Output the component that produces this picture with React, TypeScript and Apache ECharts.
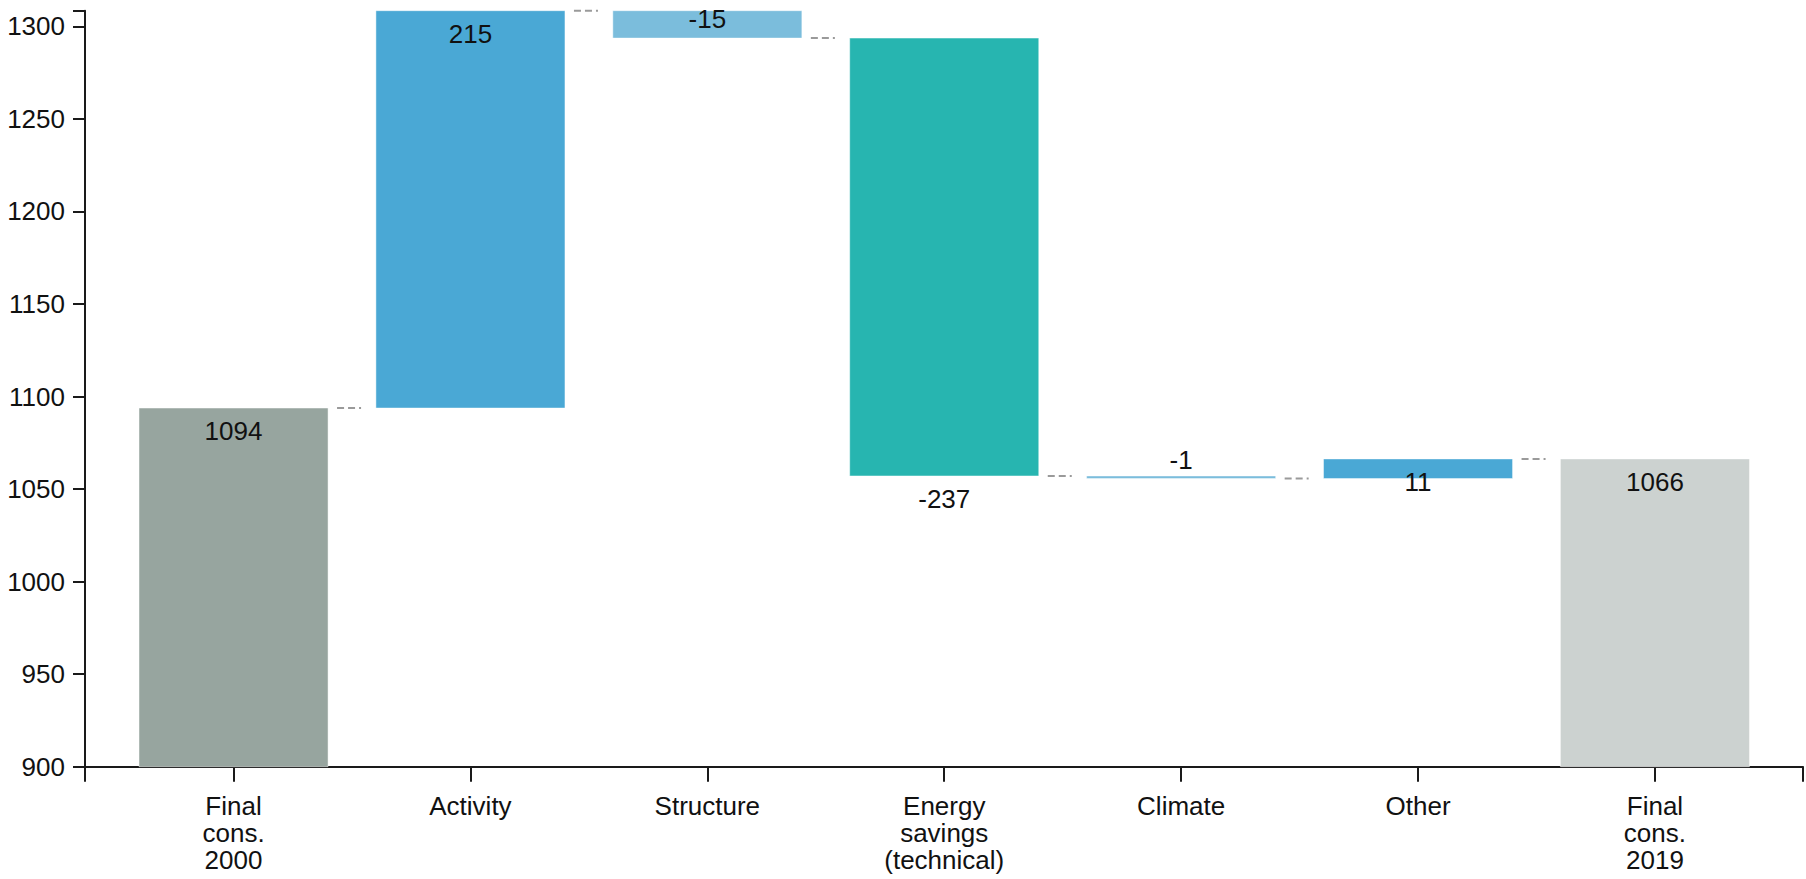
import React, { useEffect, useRef } from "react";
import * as echarts from "echarts";

const categories = [
  "Final\ncons.\n2000",
  "Activity",
  "Structure",
  "Energy\nsavings\n(technical)",
  "Climate",
  "Other",
  "Final\ncons.\n2019",
];
const startTotal = 1093.8;
const deltas = [214.7, -14.8, -236.6, -1.4, 10.6];
const endTotal = 1066.3;
const barColors = ["#97A59F", "#4AA8D5", "#7BBDDC", "#27B5B0", "#7BBDDC", "#4AA8D5", "#CCD2D0"];
const yTicks = [900, 950, 1000, 1050, 1100, 1150, 1200, 1250, 1300];
const yMin = 900;
const xMin = -0.627;
const xMax = 6.625;

const FONT = "'Liberation Sans', Arial, sans-serif";
const FS = 26;

export default function App() {
  const ref = useRef<HTMLDivElement>(null);
  useEffect(() => {
    if (!ref.current) return;
    const chart = echarts.init(ref.current, undefined, { renderer: "svg" });

    // build waterfall segments: [index, start, end, label]
    const segs: any[] = [];
    segs.push([0, yMin, startTotal, String(Math.round(startTotal))]);
    let run = startTotal;
    deltas.forEach((d, k) => {
      segs.push([k + 1, run, run + d, String(Math.round(d))]);
      run += d;
    });
    segs.push([categories.length - 1, yMin, endTotal, String(Math.round(endTotal))]);
    let yMax = yMin;
    segs.forEach((s) => {
      yMax = Math.max(yMax, s[1], s[2]);
    });

    const renderItem = (params: any, api: any) => {
      const i = api.value(0);
      const s = api.value(1);
      const e = api.value(2);
      const label = segs[params.dataIndex][3];
      const pS = api.coord([i, s]);
      const pE = api.coord([i, e]);
      const w = api.size([0.798, 0])[0];
      const top = Math.min(pS[1], pE[1]);
      const h = Math.abs(pS[1] - pE[1]);
      const children: any[] = [
        {
          type: "rect",
          shape: { x: pS[0] - w / 2, y: top, width: w, height: Math.max(h, 1) },
          style: { fill: barColors[params.dataIndex], stroke: "rgba(255,255,255,0.45)", lineWidth: 1 },
        },
      ];
      const negative = e < s;
      const small = h < 40;
      let ty: number;
      let va: string;
      if (negative && small) {
        ty = pE[1] - 6;
        va = "bottom";
      } else {
        ty = pE[1] + 10;
        va = "top";
      }
      children.push({
        type: "text",
        x: pE[0],
        y: ty,
        style: {
          text: label,
          align: "center",
          verticalAlign: va,
          fontSize: FS,
          fontFamily: FONT,
          fill: "#111",
        },
      });
      if (params.dataIndex < segs.length - 1) {
        const x0 = pE[0] + w / 2 + 9;
        children.push({
          type: "line",
          shape: { x1: x0, y1: pE[1], x2: x0 + 24, y2: pE[1] },
          style: { stroke: "#9a9a9a", lineWidth: 2, lineDash: [7, 4] },
        });
      }
      return { type: "group", children };
    };

    const tickVals = [xMin, 0, 1, 2, 3, 4, 5, 6, xMax];

    chart.setOption({
      animation: false,
      grid: {
        left: 85,
        right: 3,
        top: 10.7,
        bottom: 112.3,
        containLabel: false,
        outerBoundsMode: "none",
      },
      xAxis: {
        type: "value",
        min: xMin,
        max: xMax,
        splitLine: { show: false },
        axisLine: { show: true, onZero: false, lineStyle: { color: "#1a1a1a", width: 2 } },
        axisTick: {
          show: true,
          customValues: tickVals,
          length: 15,
          lineStyle: { color: "#1a1a1a", width: 2 },
        },
        axisLabel: {
          customValues: [0, 1, 2, 3, 4, 5, 6],
          formatter: (v: number) => categories[Math.round(v)],
          margin: 26,
          fontSize: FS,
          lineHeight: 27,
          fontFamily: FONT,
          color: "#111",
          align: "center",
        },
      },
      yAxis: {
        type: "value",
        min: yMin,
        max: yMax,
        splitLine: { show: false },
        axisLine: { show: true, onZero: false, lineStyle: { color: "#1a1a1a", width: 2 } },
        axisTick: {
          show: true,
          customValues: [...yTicks, yMax],
          length: 12,
          lineStyle: { color: "#1a1a1a", width: 2 },
        },
        axisLabel: {
          customValues: yTicks,
          formatter: (v: number) => String(v),
          margin: 20,
          fontSize: FS,
          fontFamily: FONT,
          color: "#111",
        },
      },
      series: [
        {
          type: "custom",
          renderItem,
          data: segs.map((s) => [s[0], s[1], s[2]]),
          encode: { x: 0, y: [1, 2] },
          silent: true,
          clip: false,
        },
      ],
    });
    return () => chart.dispose();
  }, []);
  return (
    <div
      ref={ref}
      style={{ position: "fixed", left: 0, top: 0, width: 1806, height: 879, background: "#fff" }}
    />
  );
}
